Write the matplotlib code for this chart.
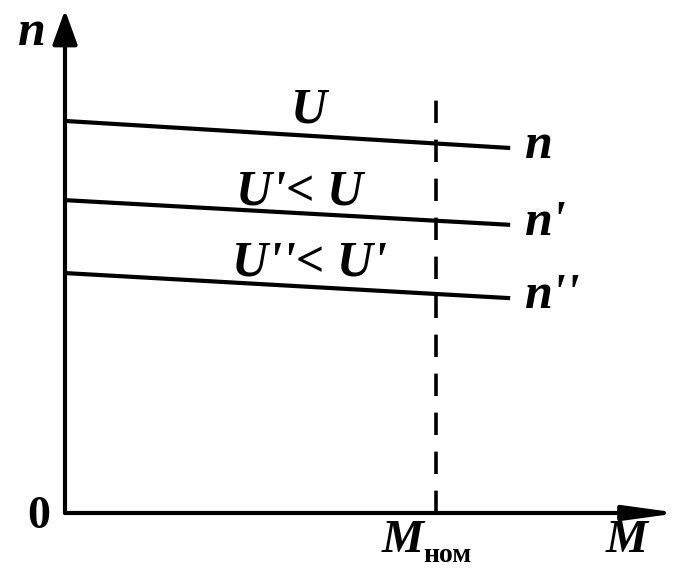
import matplotlib
matplotlib.use("Agg")
import matplotlib.pyplot as plt

# === DATA (relative units: M_nom = 1, n at no load for U = 1) ===
m_start, m_end = 0.0, 1.2
m_nom = 1.0
speeds_start = [1.0, 0.798, 0.612]
speeds_end = [0.931, 0.735, 0.548]
curve_labels = ["U", "U'< U", "U''< U'"]
end_labels = ["n", "n'", "n''"]
label_pos = [(0.658, 0.995), (0.631, 0.786), (0.658, 0.605)]

X_MAX, Y_MAX = 1.655, 1.283

fig = plt.figure(figsize=(6.82, 5.70), dpi=100)
ax = fig.add_axes([65 / 682, 57 / 570, 614 / 682, 503 / 570])
ax.set_xlim(0, X_MAX)
ax.set_ylim(0, Y_MAX)
ax.axis("off")

font = dict(family="Liberation Serif", style="italic", weight="bold", color="black")

# axes with arrows
ax.annotate("", xy=(X_MAX, 0), xytext=(0, 0), annotation_clip=False,
            arrowprops=dict(arrowstyle="-|>,head_length=1.6,head_width=0.22", lw=3, color="black",
                            shrinkA=0, shrinkB=0, mutation_scale=20))
ax.annotate("", xy=(0, Y_MAX), xytext=(0, 0), annotation_clip=False,
            arrowprops=dict(arrowstyle="-|>,head_length=1.05,head_width=0.38", lw=3, color="black",
                            shrinkA=0, shrinkB=0, mutation_scale=20))

# dashed M_nom line
ax.plot([m_nom, m_nom], [0, 1.056], color="black", lw=2.6, dashes=(6.2, 4.6), clip_on=False)

# speed characteristics
for s0, s1, lab, end, (lx, ly) in zip(speeds_start, speeds_end, curve_labels, end_labels, label_pos):
    ax.plot([m_start, m_end], [s0, s1], color="black", lw=3, solid_capstyle="butt", clip_on=False)
    ax.text(lx, ly, lab, fontsize=36, ha="center", va="baseline", **font)
    ax.text(m_end + 0.04, s1 - 0.025, end, fontsize=36, ha="left", va="baseline", **font)

# axis labels
ax.text(-0.089, 1.194, "n", fontsize=36, ha="center", va="baseline", **font)
ax.text(-0.07, -0.01, "0", fontsize=33, ha="center", va="center",
        family="Liberation Serif", weight="bold", color="black")
ax.text(0.91, -0.1, "M", fontsize=34, ha="center", va="baseline", **font)
ax.text(1.03, -0.125, "ном", fontsize=20, ha="center", va="baseline",
        family="Liberation Serif", weight="bold", color="black")
ax.text(1.515, -0.1, "M", fontsize=34, ha="center", va="baseline", **font)

fig.savefig("out.png", dpi=100)
